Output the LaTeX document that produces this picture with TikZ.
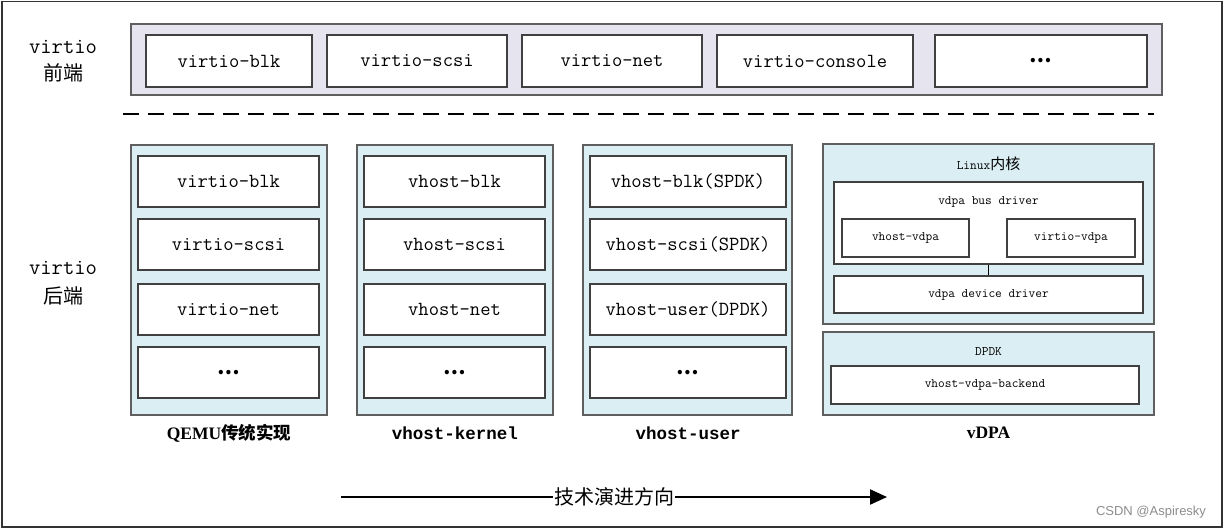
\documentclass[tikz,border=0pt]{standalone}
\usepackage{fontspec}
\setmainfont{Liberation Serif}
\setsansfont{Liberation Sans}
\setmonofont{Latin Modern Mono}
\newfontfamily\boldmono{Liberation Mono}
\newfontfamily\cjk{Noto Sans CJK SC}
\usetikzlibrary{arrows.meta}
\definecolor{frontbg}{RGB}{230,228,238}
\definecolor{backbg}{RGB}{218,238,243}
\definecolor{edgegray}{RGB}{95,95,95}

\begin{document}
\begin{tikzpicture}[x=1pt, y=-1pt,
    grp/.style={draw=edgegray, line width=1.6pt, inner sep=0pt},
    frontgrp/.style={grp, fill=frontbg},
    backgrp/.style={grp, fill=backbg},
    item/.style={draw=black!75, line width=1.2pt, fill=white, inner sep=0pt,
      font=\fontsize{20}{22}\selectfont\ttfamily},
    subitem/.style={item, font=\fontsize{13}{15}\selectfont\ttfamily},
    sublabel/.style={font=\fontsize{13}{15}\selectfont\ttfamily},
    sidelabel/.style={font=\fontsize{22}{24}\selectfont\ttfamily},
    collabel/.style={font=\fontsize{17.5}{20}\selectfont\bfseries\boldmono},
    evo/.style={line width=2.2pt, -{Triangle[length=17pt,width=15pt]}}]
    \useasboundingbox (0,0) rectangle (1225,529);
    \draw[line width=1.4pt, black!80] (2,1.5) rectangle (1222,527);

    % front end
    \node[sidelabel] (ftxt) at (63,47) {virtio};
    \node[sidelabel] (fcn) at (63,73) {\cjk\fontsize{20}{22}\selectfont 前端};
    \node[frontgrp, minimum width=1031, minimum height=71] (front) at (646.5,59.5) {};
    \node[item, minimum width=166, minimum height=52] (fblk) at (229,61) {virtio-blk};
    \node[item, minimum width=180, minimum height=52] (fscsi) at (417,61) {virtio-scsi};
    \node[item, minimum width=180, minimum height=52] (fnet) at (612,61) {virtio-net};
    \node[item, minimum width=196, minimum height=52] (fcons) at (815,61) {virtio-console};
    \node[item, minimum width=212, minimum height=52] (fdots) at (1041,61) {\cjk\bfseries …};

    \draw[line width=2.5pt, dash pattern=on 16pt off 9pt] (123,114) -- (1154,114);

    % back end
    \node[sidelabel] (btxt) at (63,268) {virtio};
    \node[sidelabel] (bcn) at (63,296) {\cjk\fontsize{20}{22}\selectfont 后端};

    \node[backgrp, minimum width=196, minimum height=270] (qemu) at (229,280) {};
    \node[item, minimum width=181, minimum height=51] (qblk) at (228.5,181.5) {virtio-blk};
    \node[item, minimum width=181, minimum height=51] (qscsi) at (228.5,244.5) {virtio-scsi};
    \node[item, minimum width=181, minimum height=51] (qnet) at (228.5,309.5) {virtio-net};
    \node[item, minimum width=181, minimum height=51] (qdots) at (228.5,372.5) {\cjk\bfseries …};
    \node[collabel] (lqemu) at (229,433) {{\rmfamily QEMU}{\cjk 传统实现}};

    \node[backgrp, minimum width=196, minimum height=270] (vker) at (455,280) {};
    \node[item, minimum width=181, minimum height=51] (kblk) at (454.5,181.5) {vhost-blk};
    \node[item, minimum width=181, minimum height=51] (kscsi) at (454.5,244.5) {vhost-scsi};
    \node[item, minimum width=181, minimum height=51] (knet) at (454.5,309.5) {vhost-net};
    \node[item, minimum width=181, minimum height=51] (kdots) at (454.5,372.5) {\cjk\bfseries …};
    \node[collabel] (lker) at (455,433) {vhost-kernel};

    \node[backgrp, minimum width=209, minimum height=270] (vusr) at (687.5,280) {};
    \node[item, minimum width=196, minimum height=51] (ublk) at (688,181.5) {vhost-blk(SPDK)};
    \node[item, minimum width=196, minimum height=51] (uscsi) at (688,244.5) {vhost-scsi(SPDK)};
    \node[item, minimum width=196, minimum height=51] (unet) at (688,309.5) {vhost-user(DPDK)};
    \node[item, minimum width=196, minimum height=51] (udots) at (688,372.5) {\cjk\bfseries …};
    \node[collabel] (lusr) at (688,433) {vhost-user};

    % vDPA
    \node[backgrp, minimum width=331, minimum height=180] (linux) at (988.5,234) {};
    \node[sublabel] (llinux) at (988.5,164) {Linux{\cjk\fontsize{15}{17}\selectfont 内核}};
    \node[subitem, minimum width=309, minimum height=82] (bus) at (988.5,223) {};
    \node[sublabel] (lbus) at (988.5,202) {vdpa bus driver};
    \node[subitem, minimum width=127, minimum height=38] (vhvdpa) at (905.5,238) {vhost-vdpa};
    \node[subitem, minimum width=128, minimum height=38] (vivdpa) at (1071,238) {virtio-vdpa};
    \node[subitem, minimum width=309, minimum height=37] (devdrv) at (988.5,294.5) {vdpa device driver};
    \draw[line width=1.6pt] (bus.south) -- (devdrv.north);

    \node[backgrp, minimum width=331, minimum height=83] (dpdk) at (988.5,373.5) {};
    \node[sublabel] (ldpdk) at (988.5,352) {DPDK};
    \node[subitem, minimum width=308, minimum height=38] (backend) at (985,385) {vhost-vdpa-backend};
    \node[collabel] (lvdpa) at (988.5,433) {\rmfamily vDPA};

    % evolution arrow
    \coordinate (evs) at (341,497);
    \coordinate (eve) at (887,497);
    \draw[evo] (evs) -- node[fill=white, inner sep=1pt, font=\fontsize{20}{22}\selectfont\cjk] (evtxt) {技术演进方向} (eve);

    \node[font=\fontsize{13}{15}\selectfont\sffamily, text=black!45] (mark) at (1151,512) {CSDN @Aspiresky};
  \end{tikzpicture}
\end{document}
